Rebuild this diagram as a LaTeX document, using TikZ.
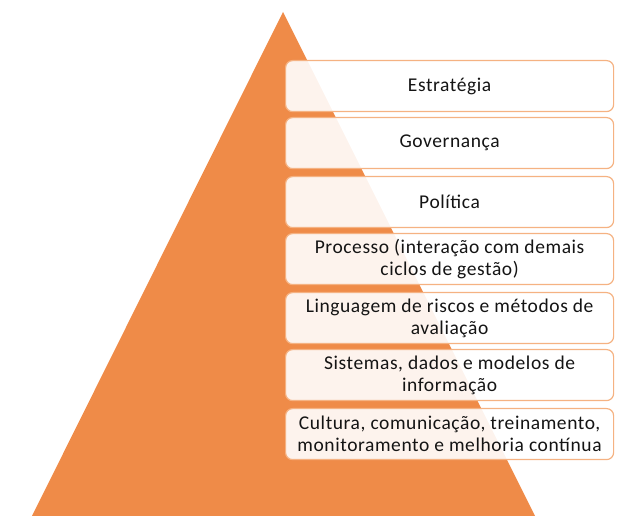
\documentclass[tikz,border=0pt]{standalone}
\usepackage{fontspec}
\setmainfont[LetterSpace=3]{Carlito}
\definecolor{pyr}{RGB}{239,139,72}
\definecolor{edge}{RGB}{245,178,130}
\definecolor{ink}{RGB}{20,20,20}
\tikzset{
  layer/.style={draw=edge, line width=1.2pt, rounded corners=7pt, fill=white, fill opacity=0.9, text opacity=1,
    minimum width=328pt, minimum height=51pt, align=center, anchor=north west, inner sep=0pt,
    font=\fontsize{19.5}{22}\selectfont, text=ink}
}
\begin{document}
\begin{tikzpicture}[x=1pt,y=1pt]
\useasboundingbox (0,0) rectangle (637,529);
\coordinate (apex) at (283,517);
\coordinate (bl) at (32,13);
\coordinate (br) at (535,13);
\fill[pyr] (apex) -- (br) -- (bl) -- cycle;
\node[layer] (l1) at (285,469) {Estratégia};
\node[layer] (l2) at (285,412) {Governança};
\node[layer] (l3) at (285,353) {Política};
\node[layer] (l4) at (285,296) {Processo (interação com demais\\ciclos de gestão)};
\node[layer] (l5) at (285,237) {Linguagem de riscos e métodos de\\avaliação};
\node[layer] (l6) at (285,180) {Sistemas, dados e modelos de\\informação};
\node[layer] (l7) at (285,121) {Cultura, comunicação, treinamento,\\monitoramento e melhoria contínua};
\end{tikzpicture}
\end{document}
